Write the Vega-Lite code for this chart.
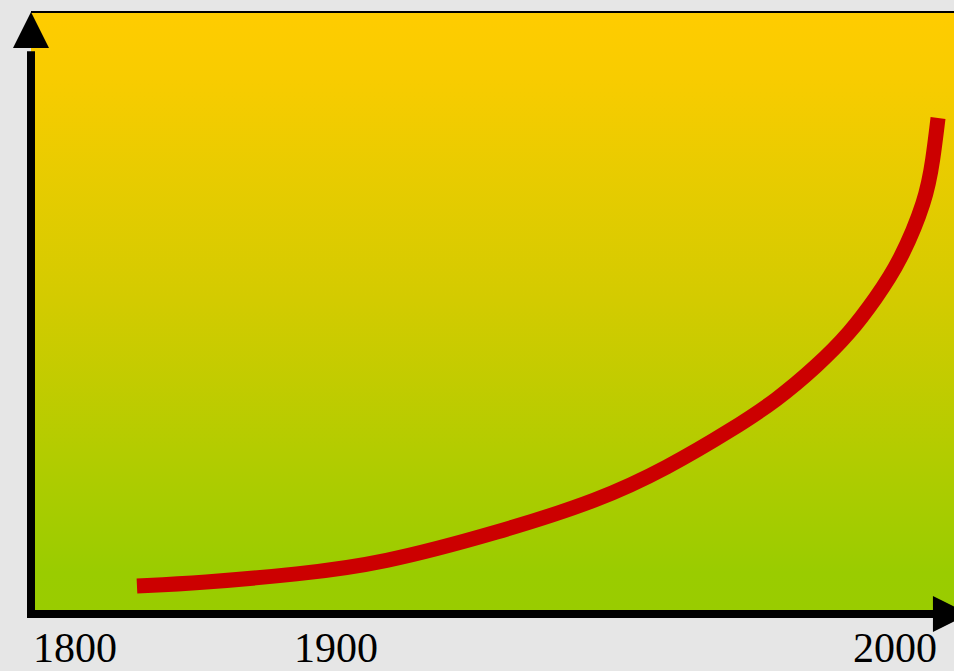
{
  "$schema": "https://vega.github.io/schema/vega-lite/v6.json",
  "width": 923,
  "height": 602,
  "autosize": {"type": "none"},
  "padding": {"left": 31, "top": 12, "right": 0, "bottom": 57},
  "background": "#e6e6e6",
  "config": {
    "view": {
      "stroke": null,
      "fill": {
        "gradient": "linear",
        "x1": 0, "y1": 0, "x2": 0, "y2": 1,
        "stops": [
          {"offset": 0, "color": "#ffcc00"},
          {"offset": 0.11, "color": "#f8cc00"},
          {"offset": 0.48, "color": "#d3cb00"},
          {"offset": 0.73, "color": "#b3cc00"},
          {"offset": 0.93, "color": "#9acc00"},
          {"offset": 1, "color": "#99cc00"}
        ]
      }
    }
  },
  "datasets": {
    "one": [{"k": 1}],
    "curve": [
      {"t": 11.48, "v": 4.65},
      {"t": 18.31, "v": 5.15},
      {"t": 29.14, "v": 6.64},
      {"t": 37.81, "v": 8.31},
      {"t": 50.81, "v": 13.62},
      {"t": 61.65, "v": 18.94},
      {"t": 68.91, "v": 24.25},
      {"t": 76.06, "v": 30.73},
      {"t": 80.82, "v": 35.55},
      {"t": 85.16, "v": 41.20},
      {"t": 88.73, "v": 46.68},
      {"t": 91.55, "v": 52.49},
      {"t": 94.15, "v": 58.47},
      {"t": 96.97, "v": 68.77},
      {"t": 97.72, "v": 75.42},
      {"t": 98.27, "v": 82.39}
    ],
    "labels": [
      {"label": "1800", "t": 4.77},
      {"label": "1900", "t": 33.04},
      {"label": "2000", "t": 93.61}
    ]
  },
  "layer": [
    {
      "data": {"name": "one"},
      "mark": {"type": "rule", "color": "black", "strokeWidth": 2},
      "encoding": {
        "x": {"datum": 0, "type": "quantitative", "scale": {"domain": [0, 100], "nice": false, "zero": false}, "axis": null},
        "x2": {"datum": 100},
        "y": {"datum": 100, "type": "quantitative", "scale": {"domain": [0, 100], "nice": false, "zero": false}, "axis": null}
      }
    },
    {
      "data": {"name": "curve"},
      "mark": {"type": "line", "color": "#cc0000", "strokeWidth": 15, "interpolate": "basis", "strokeCap": "butt"},
      "encoding": {
        "x": {"field": "t", "type": "quantitative"},
        "y": {"field": "v", "type": "quantitative"}
      }
    },
    {
      "data": {"name": "one"},
      "mark": {"type": "rule", "color": "black", "strokeWidth": 8, "strokeCap": "butt"},
      "encoding": {
        "x": {"datum": 0, "type": "quantitative"},
        "y": {"datum": -0.66, "type": "quantitative"},
        "y2": {"datum": 93.5}
      }
    },
    {
      "data": {"name": "one"},
      "mark": {"type": "rule", "color": "black", "strokeWidth": 8, "strokeCap": "butt"},
      "encoding": {
        "y": {"datum": 0, "type": "quantitative"},
        "x": {"datum": -0.43, "type": "quantitative"},
        "x2": {"datum": 98}
      }
    },
    {
      "data": {"name": "one"},
      "mark": {"type": "point", "filled": true, "color": "black", "opacity": 1, "size": 1296, "shape": "M0,-1L1,1L-1,1Z"},
      "encoding": {
        "x": {"datum": 0, "type": "quantitative"},
        "y": {"datum": 97.0, "type": "quantitative"}
      }
    },
    {
      "data": {"name": "one"},
      "mark": {"type": "point", "filled": true, "color": "black", "opacity": 1, "size": 1296, "shape": "M1,0L-1,-1L-1,1Z"},
      "encoding": {
        "x": {"datum": 99.67, "type": "quantitative"},
        "y": {"datum": 0, "type": "quantitative"}
      }
    },
    {
      "data": {"name": "labels"},
      "mark": {"type": "text", "font": "Liberation Serif", "fontSize": 42, "color": "black", "align": "center", "baseline": "alphabetic"},
      "encoding": {
        "x": {"field": "t", "type": "quantitative"},
        "y": {"datum": -7.97, "type": "quantitative"},
        "text": {"field": "label"}
      }
    }
  ]
}
